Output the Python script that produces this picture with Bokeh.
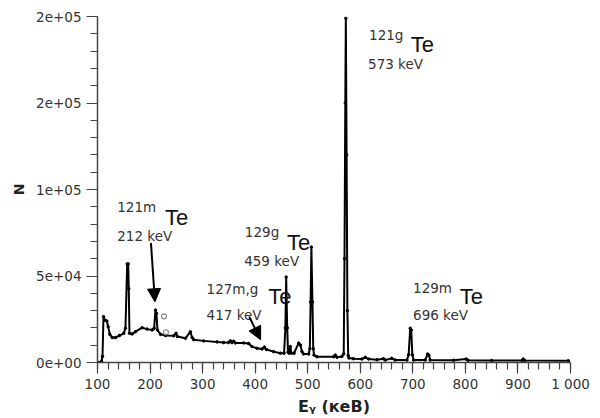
from bokeh.plotting import figure
from bokeh.models import Range1d, FixedTicker, Label, Arrow, NormalHead, ColumnDataSource
from bokeh.embed import file_html
from bokeh.resources import INLINE

# Gamma spectrum (energy in keV, counts N)
energy = [102.5, 107.6, 109.5, 111.4, 113.9, 117.7, 120.3, 123.4, 127.9, 134.2,
          141.8, 150.0, 153.2, 156.5, 158.4, 159.5, 160.8, 166.0, 172.2, 185.0,
          194.3, 204.0, 207.8, 210.3, 212.2, 214.1, 219.8, 229.3, 245.0, 249.5,
          252.0, 267.3, 276.8, 280.0, 283.0, 302.0, 327.5, 340.0, 349.6, 352.8,
          355.9, 359.0, 362.3, 378.0, 387.6, 394.0, 403.6, 413.0, 417.5, 421.3,
          435.0, 448.0, 455.0, 457.5, 459.0, 461.0, 462.5, 464.5, 466.9, 469.0,
          474.0, 482.7, 486.0, 489.0, 492.0, 501.7, 504.0, 505.5, 507.0, 509.0,
          510.5, 512.0, 517.6, 549.0, 552.4, 555.6, 565.0, 568.5, 570.0, 571.5,
          572.5, 574.0, 575.5, 577.0, 578.5, 587.0, 603.0, 609.5, 616.0, 631.7,
          644.0, 647.5, 660.0, 666.5, 688.8, 692.0, 695.0, 697.0, 699.0, 701.5,
          723.5, 728.0, 730.5, 733.0, 777.4, 801.5, 805.0, 850.0, 908.0, 910.0,
          913.0, 996.0]
counts = [0, 700, 3500, 26500, 24500, 24000, 20700, 16300, 14400, 14400,
          15600, 16900, 19800, 57000, 57000, 42700, 16900, 16500, 17800, 20100,
          19300, 18800, 19800, 30300, 28400, 18800, 16300, 15600, 15400, 16900,
          15000, 14000, 17800, 14400, 13200, 12500, 11900, 11500, 11500, 12500,
          11500, 12300, 11300, 11300, 11000, 9200, 8200, 7800, 8900, 7500,
          6300, 5400, 5400, 20000, 49400, 20000, 6000, 5400, 9200, 5400,
          5400, 11200, 10100, 6300, 4900, 4900, 8000, 35000, 66700, 35000,
          8000, 4300, 3300, 3300, 4300, 3000, 3500, 5000, 60000, 150000,
          199000, 120000, 30000, 4000, 2600, 2200, 2000, 3000, 2000, 1600,
          2200, 1400, 2400, 1400, 1400, 4500, 19800, 18800, 4500, 1400,
          1400, 4900, 4200, 1400, 1300, 2000, 1300, 1100, 1100, 2000,
          1100, 1000]

# small reference circles near the 212 keV peak
circle_energy = [226.4, 230.2]
circle_counts = [26700, 17500]

x_ticks = [100, 200, 300, 400, 500, 600, 700, 800, 900, 1000]
x_tick_labels = ["100", "200", "300", "400", "500", "600", "700", "800", "900", "1 000"]
y_ticks = [0, 50000, 100000, 150000, 200000]
y_tick_labels = ["0e+00", "5e+04", "1e+05", "2e+05", "2e+05"]

# annotation texts: (superscript, energy label)
iso_sup = ["121g", "121m", "129g", "127m,g", "129m"]
iso_kev = ["573 keV", "212 keV", "459 keV", "417 keV", "696 keV"]

x_title = "E\u1d67 (\u043a\u0435\u0412)"
y_title = "N"

p = figure(width=591, height=418, output_backend="svg", toolbar_location=None,
           x_range=Range1d(100, 1000), y_range=Range1d(0, 200000),
           min_border_left=97, min_border_right=21, min_border_top=16,
           min_border_bottom=56, background_fill_color="white",
           border_fill_color="white")
p.outline_line_color = None
p.grid.visible = False

src = ColumnDataSource(dict(x=energy, y=counts))
p.line("x", "y", source=src, line_color="black", line_width=2)
p.scatter("x", "y", source=src, size=2.5, color="black")
p.scatter(circle_energy, circle_counts, size=5, marker="circle",
          fill_color=None, line_color="#888888", line_width=1.2)

# axes
axis_col = "#444444"
for ax in (p.xaxis[0], p.yaxis[0]):
    ax.axis_line_color = axis_col
    ax.axis_line_width = 1.5
    ax.major_tick_line_color = axis_col
    ax.minor_tick_line_color = axis_col
    ax.major_tick_line_width = 1.2
    ax.minor_tick_line_width = 1.2
    ax.major_tick_in = 0
    ax.minor_tick_in = 0
    ax.major_tick_out = 11
    ax.minor_tick_out = 7
    ax.major_label_text_font = "DejaVu Sans"
    ax.major_label_text_font_size = "13.5px"
    ax.major_label_text_color = "#333333"
    ax.axis_label_text_font = "DejaVu Sans"
    ax.axis_label_text_font_style = "bold"
    ax.axis_label_text_color = "#222222"

p.xaxis.ticker = FixedTicker(ticks=x_ticks, minor_ticks=list(range(100, 1001, 20)))
p.xaxis.major_label_overrides = {t: l for t, l in zip(x_ticks, x_tick_labels)}
p.xaxis.major_label_standoff = 2
p.xaxis.axis_label = x_title
p.xaxis.axis_label_text_font_size = "16px"
p.xaxis.axis_label_standoff = 2

p.yaxis.ticker = FixedTicker(ticks=y_ticks, minor_ticks=list(range(0, 200001, 10000)))
p.yaxis.major_label_overrides = {t: l for t, l in zip(y_ticks, y_tick_labels)}
p.yaxis.major_label_standoff = 5
p.yaxis.axis_label = y_title
p.yaxis.axis_label_text_font_size = "14px"
p.yaxis.axis_label_standoff = 6

# annotation positions in data units (energy, counts baselines)
sup_pos = [(616.7, 189300), (137.6, 89600), (380.4, 75200), (307.6, 42700), (700.4, 43100)]
te_pos = [(696.0, 183600), (228.3, 83800), (460.8, 69500), (424.7, 38000), (789.2, 38000)]
kev_pos = [(614.8, 172700), (137.6, 73300), (379.1, 58400), (307.6, 27400), (700.4, 27400)]

for s, k, sp, tp, kp in zip(iso_sup, iso_kev, sup_pos, te_pos, kev_pos):
    p.add_layout(Label(x=sp[0], y=sp[1], text=s, text_font="DejaVu Sans",
                       text_font_size="13.5px", text_color="#333333",
                       text_baseline="alphabetic"))
    p.add_layout(Label(x=tp[0], y=tp[1], text="Te",
                       text_font="'Liberation Sans Narrow', 'Liberation Sans'",
                       text_font_size="22px", text_color="#111111",
                       text_baseline="alphabetic"))
    p.add_layout(Label(x=kp[0], y=kp[1], text=k, text_font="DejaVu Sans",
                       text_font_size="13.5px", text_color="#333333",
                       text_baseline="alphabetic"))

# arrows
arrows = [((201.7, 69100), (209.3, 35100)), ((388.6, 26500), (410.3, 13100))]
for (xs, ys), (xe, ye) in arrows:
    p.add_layout(Arrow(end=NormalHead(size=13, fill_color="black", line_color="black"),
                       x_start=xs, y_start=ys, x_end=xe, y_end=ye,
                       line_color="black", line_width=2))

open("out.html", "w").write(file_html(p, INLINE))
